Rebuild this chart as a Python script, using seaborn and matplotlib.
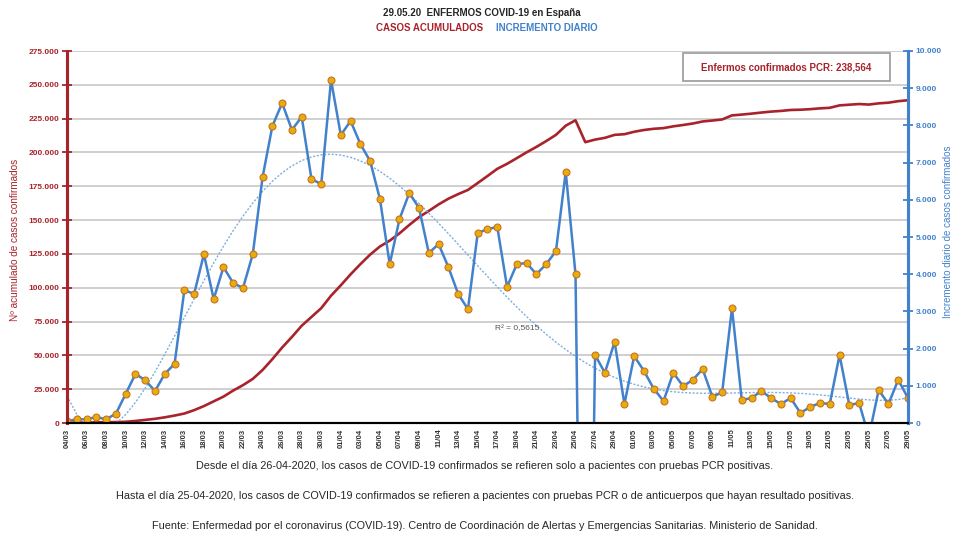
import numpy as np
import pandas as pd
import seaborn as sns
import matplotlib.pyplot as plt
import matplotlib.ticker as mticker
import matplotlib.dates as mdates
from matplotlib.patches import Rectangle

sns.set_style("white")
plt.rcParams['font.family'] = ['Liberation Sans', 'DejaVu Sans']

# daily dates 04.03.2020 -> 29.05.2020
fechas = pd.date_range("2020-03-04", "2020-05-29", freq="D")

# incremento diario (right axis)
incremento_marzo = [50, 100, 100, 160, 100, 250, 780, 1320, 1150, 860,
                    1320, 1590, 3570, 3470, 4540, 3330, 4190, 3760, 3630, 4540,
                    6610, 7980, 8600, 7880, 8230, 6560, 6420, 9220]
incremento_abril = [7740, 8120, 7500, 7040, 6020, 4270, 5480, 6180, 5780, 4570,
                    4810, 4190, 3470, 3060, 5110, 5210, 5270, 3660, 4270, 4300,
                    4000, 4270, 4620, 6750, 4000, -16100, 1830, 1350, 2180, 510]
incremento_mayo = [1800, 1400, 920, 590, 1350, 990, 1160, 1450, 700, 830,
                   3090, 620, 670, 860, 670, 510, 670, 270, 430, 540,
                   510, 1830, 480, 540, -370, 890, 510, 1160, 670]

# casos acumulados (left axis)
acumulado_marzo = [200, 250, 350, 450, 600, 700, 900, 1500, 2300, 3100,
                   4200, 5500, 7000, 9500, 12500, 16000, 19500, 24000, 28000, 32600,
                   39200, 47200, 55800, 63600, 71900, 78400, 84900, 94100]
acumulado_abril = [101800, 109900, 117400, 124500, 130500, 134800, 140200, 146400, 152200, 156800,
                   161600, 165800, 169200, 172300, 177400, 182600, 187900, 191600, 195800, 200100,
                   204100, 208400, 213000, 219800, 223800, 207600, 209500, 210800, 213000, 213500]
acumulado_mayo = [215300, 216600, 217500, 218000, 219300, 220300, 221400, 222900, 223600, 224400,
                  227400, 228000, 228700, 229500, 230200, 230700, 231400, 231600, 232000, 232600,
                  233000, 234800, 235300, 235800, 235400, 236300, 236800, 237900, 238600]

df = pd.DataFrame({
    "fecha": fechas,
    "incremento": incremento_marzo + incremento_abril + incremento_mayo,
    "acumulado": acumulado_marzo + acumulado_abril + acumulado_mayo,
})

ROJO = "#A8232B"
AZUL = "#4281CC"

fig = plt.figure(figsize=(9.58, 5.38), dpi=100)
ax = fig.add_axes([67/958, 1-423/538, 841/958, 372/538])
ax2 = ax.twinx()

# gridlines follow left axis
ax.set_ylim(0, 275000)
ax.yaxis.set_major_locator(mticker.MultipleLocator(25000))
ax.grid(axis="y", color="#cfcfcf", lw=1.4)
ax.set_axisbelow(True)

sns.lineplot(data=df, x="fecha", y="acumulado", ax=ax, color=ROJO, lw=1.9)

# polynomial trend (order 6) of daily increment
xi = np.arange(len(df))
coef = np.polyfit(xi, df["incremento"], 6)
df["tendencia"] = np.polyval(coef, xi)
sns.lineplot(data=df, x="fecha", y="tendencia", ax=ax2, color="#7FAEDF",
             lw=1, linestyle=(0, (1.5, 1.2)))
sns.lineplot(data=df, x="fecha", y="incremento", ax=ax2, color=AZUL, lw=1.8,
             marker="o", markersize=5, markerfacecolor="#E2AE10",
             markeredgecolor="#D0701A", markeredgewidth=0.8)
ax2.set_ylim(0, 10000)
ax2.yaxis.set_major_locator(mticker.MultipleLocator(1000))

ax.set_xlim(df["fecha"].iloc[0], df["fecha"].iloc[-1])

fmt_es = mticker.FuncFormatter(lambda v, p: f"{int(v):,}".replace(",", "."))
ax.yaxis.set_major_formatter(fmt_es)
ax2.yaxis.set_major_formatter(fmt_es)

# x ticks: daily marks, labels every two days
ax.xaxis.set_minor_locator(mdates.DayLocator())
ax.set_xticks(df["fecha"].iloc[::2])
ax.xaxis.set_major_formatter(mdates.DateFormatter("%d/%m"))
ax.tick_params(axis="x", which="both", direction="inout", length=6, width=1,
               color="black", labelsize=5.5, labelrotation=90, pad=1)
for t in ax.get_xticklabels():
    t.set_fontweight("bold")
    t.set_color("#333333")

ax.tick_params(axis="y", direction="inout", length=7, width=1.3, color=ROJO,
               labelcolor=ROJO, labelsize=6, pad=2)
ax2.tick_params(axis="y", direction="inout", length=7, width=1.3, color=AZUL,
                labelcolor=AZUL, labelsize=6, pad=2)
for t in ax.get_yticklabels() + ax2.get_yticklabels():
    t.set_fontweight("bold")

ax.set_xlabel("")
ax.set_ylabel("")
ax2.set_ylabel("")

for a in (ax, ax2):
    a.spines["top"].set_visible(False)
    a.spines["left"].set_color(ROJO)
    a.spines["left"].set_linewidth(2.2)
    a.spines["right"].set_color(AZUL)
    a.spines["right"].set_linewidth(2.2)
    a.spines["bottom"].set_color("black")
    a.spines["bottom"].set_linewidth(1.5)

ax2.text(df["fecha"].iloc[46], 2550, "R² = 0,5615", fontsize=6, color="#555555",
         ha="center", va="center")

# box with total PCR
ax.add_patch(Rectangle((683/958, 1-81/538), 207/958, 28/538, transform=fig.transFigure,
                       facecolor="white", edgecolor="#a0a0a0", lw=1.3, zorder=5,
                       clip_on=False))
fig.text(786/958, 1-67/538, "Enfermos confirmados PCR: 238,564", color=ROJO,
         fontsize=7, fontweight="bold", ha="center", va="center", zorder=6)

# titles
fig.text(482/958, 1-13/538, "29.05.20  ENFERMOS COVID-19 en España", fontsize=7,
         fontweight="bold", ha="center", va="center")
fig.text(430/958, 1-28/538, "CASOS ACUMULADOS", fontsize=7, fontweight="bold",
         color=ROJO, ha="center", va="center")
fig.text(547/958, 1-28/538, "INCREMENTO DIARIO", fontsize=7, fontweight="bold",
         color=AZUL, ha="center", va="center")

fig.text(15/958, 1-240/538, "Nº acumulado de casos confirmados", rotation=90,
         fontsize=7.2, color=ROJO, ha="center", va="center")
fig.text(948/958, 1-232/538, "Incremento diario de casos confirmados", rotation=90,
         fontsize=7, color=AZUL, ha="center", va="center")

notas = [
    "Desde el día 26-04-2020, los casos de COVID-19 confirmados se refieren solo a pacientes con pruebas PCR positivas.",
    "Hasta el día 25-04-2020, los casos de COVID-19 confirmados se refieren a pacientes con pruebas PCR o de anticuerpos que hayan resultado positivas.",
    "Fuente: Enfermedad por el coronavirus (COVID-19). Centro de Coordinación de Alertas y Emergencias Sanitarias. Ministerio de Sanidad.",
]
for yy, txt in zip([466, 496, 526], notas):
    fig.text(485/958, 1-yy/538, txt, fontsize=7.8, ha="center", va="center")

fig.savefig("out.png", dpi=100)
